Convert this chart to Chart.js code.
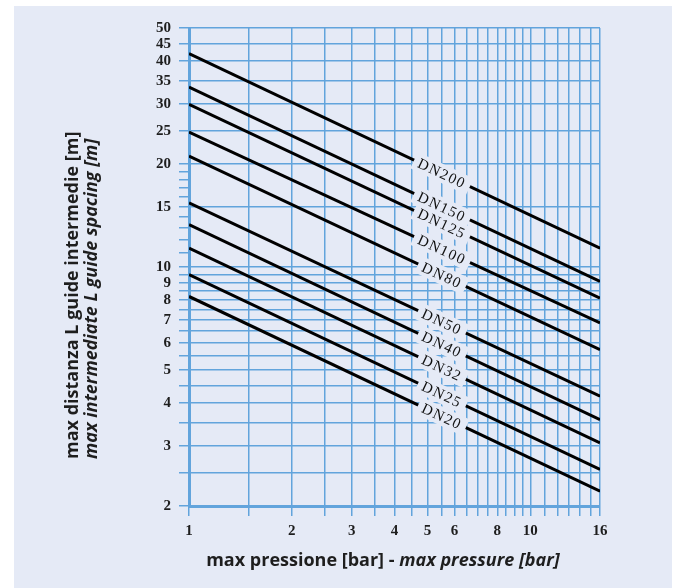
<!DOCTYPE html>
<html lang="it">
<head>
  <meta charset="UTF-8">
  <title>max distanza L guide intermedie</title>
  <script src="https://cdn.jsdelivr.net/npm/chart.js"></script>
  <style>
    html, body { margin: 0; padding: 0; background: #ffffff; }
    canvas { display: block; }
  </style>
</head>
<body>
  <canvas id="chart" width="680" height="588"></canvas>

  <script>
    // pressure at both ends of each line [bar]
    const pressure = [1, 16];

    // max guide spacing [m] at 1 bar and 16 bar
    const dn20  = [8.2, 2.21];
    const dn25  = [9.5, 2.56];
    const dn32  = [11.35, 3.06];
    const dn40  = [13.3, 3.58];
    const dn50  = [15.4, 4.19];
    const dn80  = [21.1, 5.73];
    const dn100 = [24.8, 6.86];
    const dn125 = [29.9, 8.11];
    const dn150 = [33.6, 9.07];
    const dn200 = [42.1, 11.35];

    const seriesNames = ['DN20', 'DN25', 'DN32', 'DN40', 'DN50', 'DN80', 'DN100', 'DN125', 'DN150', 'DN200'];
    const seriesValues = [dn20, dn25, dn32, dn40, dn50, dn80, dn100, dn125, dn150, dn200];

    // grid / tick positions
    const xTicks = [1, 1.5, 2, 2.5, 3, 3.5, 4, 4.5, 5, 5.5, 6, 6.5, 7, 7.5, 8, 8.5, 9, 9.5, 10, 11, 12, 13, 14, 15, 16];
    const xLabels = [1, 2, 3, 4, 5, 6, 8, 10, 16];
    const yTicks = [2, 2.5, 3, 3.5, 4, 4.5, 5, 5.5, 6, 6.5, 7, 7.5, 8, 8.5, 9, 9.5, 10,
                    11, 12, 13, 14, 15, 16, 17, 18, 19, 20, 25, 30, 35, 40, 45, 50];
    const yLabels = [2, 3, 4, 5, 6, 7, 8, 9, 10, 15, 20, 25, 30, 35, 40, 45, 50];
    const yTickOnly = [11, 12, 13, 14, 16, 17, 18, 19];

    const panelColor = '#e5eaf6';
    const gridColor = '#62a4dc';
    const inkColor = '#1e1e1e';
    const labelCenterX = 442;

    const panelBg = {
      id: 'panelBg',
      beforeDraw(chart) {
        const ctx = chart.ctx;
        ctx.save();
        ctx.fillStyle = panelColor;
        ctx.fillRect(14, 6, 658, 582);
        ctx.restore();
      }
    };

    // DN labels sitting on the lines, with a cleared box behind them
    const lineLabels = {
      id: 'lineLabels',
      afterDatasetsDraw(chart) {
        const ctx = chart.ctx;
        const xs = chart.scales.x, ys = chart.scales.y;
        ctx.save();
        ctx.font = '15px "Liberation Serif", "DejaVu Serif", serif';
        ctx.letterSpacing = '1.5px';
        chart.data.datasets.forEach((ds) => {
          const p0 = ds.data[0], p1 = ds.data[ds.data.length - 1];
          const x0 = xs.getPixelForValue(p0.x), y0 = ys.getPixelForValue(p0.y);
          const x1 = xs.getPixelForValue(p1.x), y1 = ys.getPixelForValue(p1.y);
          const t = (labelCenterX - x0) / (x1 - x0);
          const cx = labelCenterX, cy = y0 + t * (y1 - y0);
          const ang = Math.atan2(y1 - y0, x1 - x0);
          const w = ctx.measureText(ds.label).width;
          ctx.save();
          ctx.translate(cx, cy);
          ctx.rotate(ang);
          ctx.fillStyle = panelColor;
          ctx.fillRect(-w / 2 - 5, -9, w + 10, 18);
          ctx.fillStyle = '#111';
          ctx.textAlign = 'center';
          ctx.textBaseline = 'middle';
          ctx.fillText(ds.label, 0, 1);
          ctx.restore();
        });
        ctx.restore();
      }
    };

    // axis titles: upright part + italic part
    const axisTitles = {
      id: 'axisTitles',
      afterDraw(chart) {
        const ctx = chart.ctx;
        const fUp = 'bold 18px "Open Sans", "DejaVu Sans", sans-serif';
        const fIt = 'italic bold 18px "Open Sans", "DejaVu Sans", sans-serif';
        ctx.save();
        ctx.fillStyle = inkColor;
        ctx.textBaseline = 'middle';
        ctx.textAlign = 'left';

        const a = 'max pressione [bar] - ', b = 'max pressure [bar]';
        ctx.font = fUp;
        const wa = ctx.measureText(a).width;
        ctx.font = fIt;
        const wb = ctx.measureText(b).width;
        let x = 383 - (wa + wb) / 2;
        ctx.font = fUp;
        ctx.fillText(a, x, 561);
        ctx.font = fIt;
        ctx.fillText(b, x + wa, 561);

        ctx.save();
        ctx.translate(73, 459);
        ctx.rotate(-Math.PI / 2);
        ctx.font = fUp;
        ctx.fillText('max distanza L guide intermedie [m]', 0, 0);
        ctx.restore();

        ctx.save();
        ctx.translate(92, 459);
        ctx.rotate(-Math.PI / 2);
        ctx.font = fIt;
        ctx.fillText('max intermediate L guide spacing [m]', 0, 0);
        ctx.restore();

        ctx.restore();
      }
    };

    const tickFont = { family: '"Liberation Serif", "DejaVu Serif", serif', size: 15, weight: 'bold' };

    const datasets = seriesNames.map((name, i) => ({
      label: name,
      data: pressure.map((p, j) => ({ x: p, y: seriesValues[i][j] })),
      borderColor: '#000000',
      borderWidth: 3,
      pointRadius: 0,
      fill: false
    }));

    new Chart(document.getElementById('chart'), {
      type: 'line',
      data: { datasets },
      options: {
        responsive: false,
        animation: false,
        devicePixelRatio: 1,
        layout: { padding: { left: 0, top: 28, right: 80, bottom: 0 } },
        plugins: {
          legend: { display: false },
          tooltip: { enabled: false }
        },
        scales: {
          x: {
            type: 'logarithmic',
            min: 1,
            max: 16,
            afterBuildTicks: (s) => { s.ticks = xTicks.map(v => ({ value: v })); },
            afterFit: (s) => { s.height = 82; },
            ticks: {
              autoSkip: false,
              maxRotation: 0,
              padding: 6,
              color: inkColor,
              font: tickFont,
              callback: (v) => xLabels.includes(v) ? String(v) : ''
            },
            grid: { color: gridColor, lineWidth: 1.5, tickLength: 10, tickColor: gridColor },
            border: { color: gridColor, width: 3 }
          },
          y: {
            type: 'logarithmic',
            min: 2,
            max: 50,
            afterBuildTicks: (s) => { s.ticks = yTicks.map(v => ({ value: v })); },
            afterFit: (s) => { s.width = 189; },
            ticks: {
              autoSkip: false,
              padding: 8,
              color: inkColor,
              font: tickFont,
              callback: (v) => yLabels.includes(v) ? String(v) : ''
            },
            grid: {
              color: (c) => (c.tick && yTickOnly.includes(c.tick.value)) ? 'rgba(0,0,0,0)' : gridColor,
              tickColor: gridColor,
              lineWidth: 1.5,
              tickLength: 10
            },
            border: { color: gridColor, width: 3 }
          }
        }
      },
      plugins: [panelBg, lineLabels, axisTitles]
    });
  </script>
</body>
</html>
